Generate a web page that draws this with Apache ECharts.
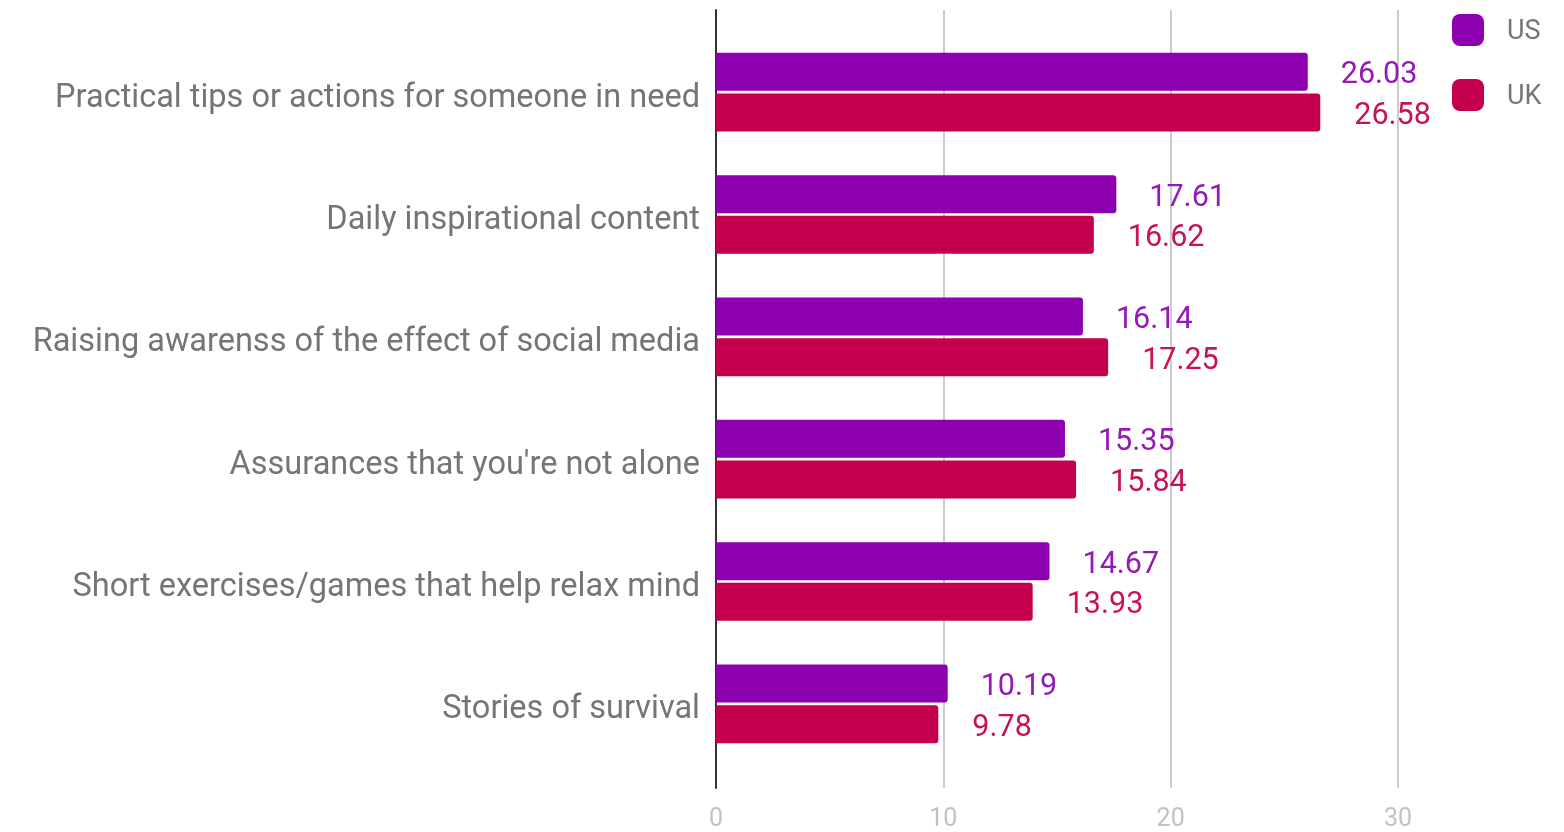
<!DOCTYPE html>
<html>
<head>
<meta charset="utf-8">
<script src="https://cdn.jsdelivr.net/npm/echarts@6/dist/echarts.min.js"></script>
<style>
html,body{margin:0;padding:0;background:#fff;}
#chart{width:1564px;height:832px;}
</style>
</head>
<body>
<div id="chart"></div>
<script>
const categories = [
  "Practical tips or actions for someone in need",
  "Daily inspirational content",
  "Raising awarenss of the effect of social media",
  "Assurances that you're not alone",
  "Short exercises/games that help relax mind",
  "Stories of survival"
];
const usValues = [26.03, 17.61, 16.14, 15.35, 14.67, 10.19];
const ukValues = [26.58, 16.62, 17.25, 15.84, 13.93, 9.78];
const seriesNames = ["US", "UK"];
const axisMin = 0, axisMax = 30, axisInterval = 10;

const FONT = "Roboto";
const US_COLOR = "#8c00b0";
const UK_COLOR = "#c4004e";

const chart = echarts.init(document.getElementById('chart'), null, {renderer: 'canvas'});
const option = {
  backgroundColor: '#ffffff',
  animation: false,
  textStyle: {fontFamily: FONT},
  legend: {
    orient: 'vertical',
    align: 'left',
    left: 1452,
    top: 14,
    padding: 0,
    itemWidth: 32,
    itemHeight: 32,
    itemGap: 33,
    icon: 'roundRect',
    data: seriesNames,
    formatter: name => '{s|}{t|' + name + '}',
    textStyle: {fontFamily: FONT, fontSize: 27, color: '#757575',
      rich: {
        s: {width: 18, fontSize: 27},
        t: {fontFamily: FONT, fontSize: 27, color: '#757575', padding: [4, 0, 0, 0]}
      }}
  },
  grid: [
    {left: 716, right: 166, top: 10, bottom: 43, containLabel: false},
    {left: 716, right: 166, top: 31, bottom: 67, containLabel: false}
  ],
  xAxis: [
    {
      gridIndex: 0, type: 'value', min: axisMin, max: axisMax, interval: axisInterval,
      axisLine: {show: false}, axisTick: {show: false},
      axisLabel: {color: '#c2c2c2', fontSize: 25, fontFamily: FONT, margin: 19},
      splitLine: {show: true, lineStyle: {color: '#cccccc', width: 2}}
    },
    {
      gridIndex: 1, type: 'value', min: axisMin, max: axisMax, interval: axisInterval,
      show: false, splitLine: {show: false}
    }
  ],
  yAxis: [
    {
      gridIndex: 0, type: 'value', min: 0, max: 1,
      axisLine: {show: true, onZero: false, lineStyle: {color: '#333333', width: 2}},
      axisTick: {show: false}, axisLabel: {show: false}, splitLine: {show: false}
    },
    {
      gridIndex: 1, type: 'category', inverse: true, data: categories,
      axisLine: {show: false}, axisTick: {show: false},
      axisLabel: {color: '#757575', fontSize: 32.5, fontFamily: FONT, margin: 16,
        verticalAlign: 'top', lineHeight: 13},
      splitLine: {show: false}
    }
  ],
  series: [
    {
      name: seriesNames[0], type: 'bar', xAxisIndex: 1, yAxisIndex: 1,
      data: usValues, barWidth: 38, barGap: '7%',
      itemStyle: {color: US_COLOR, borderRadius: [0, 3, 3, 0]},
      label: {show: true, position: 'right', distance: 33, offset: [0, 4], color: '#9419b5', fontSize: 30.5, fontFamily: FONT,
        formatter: p => p.value.toFixed(2)}
    },
    {
      name: seriesNames[1], type: 'bar', xAxisIndex: 1, yAxisIndex: 1,
      data: ukValues, barWidth: 38, barGap: '7%',
      itemStyle: {color: UK_COLOR, borderRadius: [0, 3, 3, 0]},
      label: {show: true, position: 'right', distance: 34, offset: [0, 4], color: '#c7125a', fontSize: 30.5, fontFamily: FONT,
        formatter: p => p.value.toFixed(2)}
    }
  ]
};
chart.setOption(option);
</script>
</body>
</html>
